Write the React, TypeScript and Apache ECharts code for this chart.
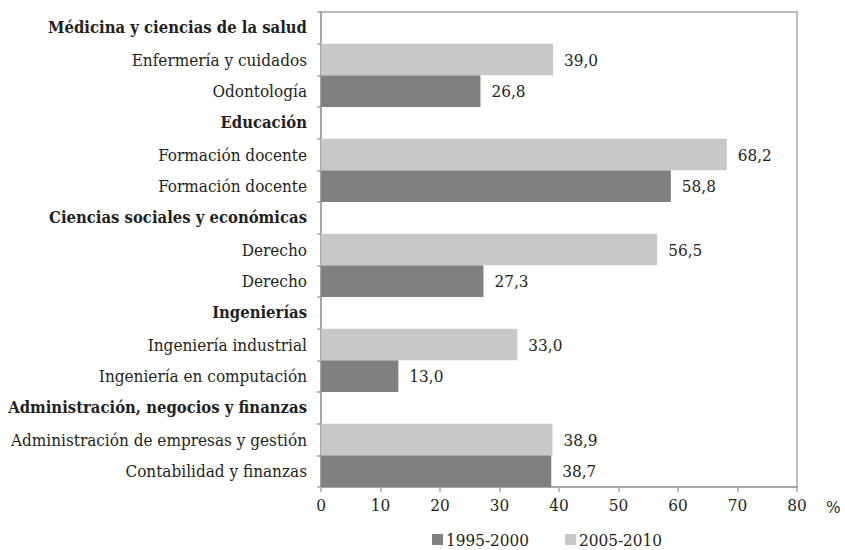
import React, { useEffect, useRef } from "react";
import * as echarts from "echarts";

const rowLabels = [
  "Médicina y ciencias de la salud",
  "Enfermería y cuidados",
  "Odontología",
  "Educación",
  "Formación docente",
  "Formación docente",
  "Ciencias sociales y económicas",
  "Derecho",
  "Derecho",
  "Ingenierías",
  "Ingeniería industrial",
  "Ingeniería en computación",
  "Administración, negocios y finanzas",
  "Administración de empresas y gestión",
  "Contabilidad y finanzas",
];
const headerRows = [0, 3, 6, 9, 12];
const period1995 = [null, null, 26.8, null, null, 58.8, null, null, 27.3, null, null, 13.0, null, null, 38.7];
const period2005 = [null, 39.0, null, null, 68.2, null, null, 56.5, null, null, 33.0, null, null, 38.9, null];
const xTicks = [0, 10, 20, 30, 40, 50, 60, 70, 80];
const seriesNames = ["1995-2000", "2005-2010"];

const FONT = "DejaVu Serif Condensed";
const FS = 17;

export default function App() {
  const ref = useRef<HTMLDivElement>(null);
  useEffect(() => {
    if (!ref.current) return;
    const chart = echarts.init(ref.current, undefined, { renderer: "svg" });
    const fmt = (p: any) => (p.value == null ? "" : Number(p.value).toFixed(1).replace(".", ","));
    const labelCfg = {
      show: true,
      position: "right",
      distance: 11,
      color: "#231f20",
      fontFamily: FONT,
      fontSize: FS,
      formatter: fmt,
    };
    chart.setOption({
      animation: false,
      textStyle: { fontFamily: FONT },
      grid: {
        left: 321,
        right: 48,
        top: 12,
        bottom: 63,
        show: true,
        borderColor: "#a6a6a6",
        borderWidth: 1.5,
        containLabel: false,
        outerBoundsMode: "none",
      },
      legend: {
        bottom: -3,
        left: 427,
        itemWidth: 11,
        itemHeight: 11,
        itemGap: 36,
        icon: "rect",
        data: seriesNames,
        textStyle: { fontFamily: FONT, fontSize: FS, color: "#231f20", padding: [0, 0, 0, -2] },
      },
      xAxis: {
        type: "value",
        min: xTicks[0],
        max: xTicks[xTicks.length - 1],
        interval: 10,
        splitLine: { show: false },
        axisLine: { show: true, lineStyle: { color: "#a6a6a6", width: 2 } },
        axisTick: { show: true, length: 5, lineStyle: { color: "#a6a6a6", width: 1.5 } },
        axisLabel: { color: "#231f20", fontFamily: FONT, fontSize: FS, margin: 9 },
        name: "%",
        nameLocation: "end",
        nameGap: 29,
        nameTextStyle: {
          color: "#231f20",
          fontFamily: FONT,
          fontSize: FS,
          verticalAlign: "top",
          padding: [11, 0, 0, 0],
        },
      },
      yAxis: {
        type: "category",
        inverse: true,
        data: rowLabels.map((_, i) => String(i)),
        axisLine: { show: true, lineStyle: { color: "#a6a6a6", width: 2 } },
        axisTick: { show: true, length: 4, interval: 0, lineStyle: { color: "#a6a6a6", width: 1.5 } },
        axisLabel: {
          interval: 0,
          margin: 14,
          color: "#231f20",
          fontFamily: FONT,
          fontSize: FS,
          formatter: (v: string) => {
            const i = Number(v);
            return headerRows.includes(i) ? `{b|${rowLabels[i]}}` : `{n|${rowLabels[i]}}`;
          },
          rich: {
            b: { fontWeight: "bold", fontFamily: FONT, fontSize: 16.5, color: "#231f20" },
            n: { fontFamily: FONT, fontSize: FS, color: "#231f20" },
          },
        },
      },
      series: [
        {
          name: seriesNames[0],
          type: "bar",
          stack: "all",
          barWidth: "100%",
          data: period1995,
          itemStyle: { color: "#808083" },
          label: labelCfg,
        },
        {
          name: seriesNames[1],
          type: "bar",
          stack: "all",
          barWidth: "100%",
          data: period2005,
          itemStyle: { color: "#c7c8ca" },
          label: labelCfg,
        },
      ],
    });
    return () => chart.dispose();
  }, []);
  return <div ref={ref} style={{ width: 845, height: 550, position: "absolute", left: 0, top: 0 }} />;
}
